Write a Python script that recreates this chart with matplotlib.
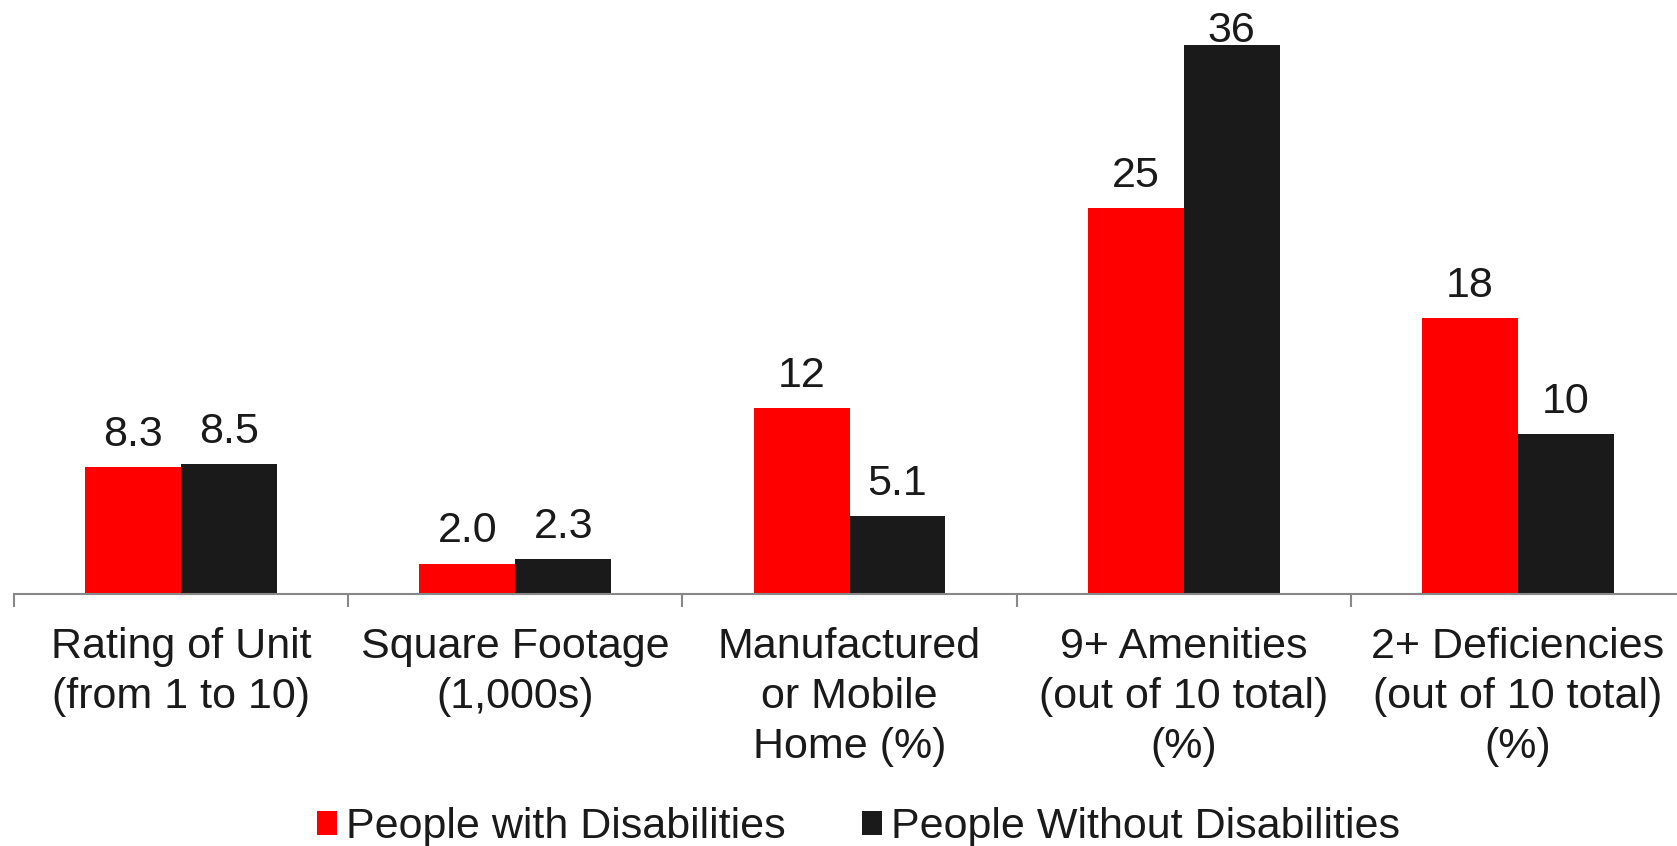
import matplotlib
matplotlib.use("Agg")
import matplotlib.pyplot as plt
import numpy as np
from matplotlib.patches import Patch

categories = ["Rating of Unit\n(from 1 to 10)", "Square Footage\n(1,000s)",
              "Manufactured\nor Mobile\nHome (%)", "9+ Amenities\n(out of 10 total)\n(%)",
              "2+ Deficiencies\n(out of 10 total)\n(%)"]
series_names = ["People with Disabilities", "People Without Disabilities"]
with_dis = [8.3, 2.0, 12.2, 25.3, 18.1]
without_dis = [8.5, 2.3, 5.1, 36.0, 10.5]
with_labels = ["8.3", "2.0", "12", "25", "18"]
without_labels = ["8.5", "2.3", "5.1", "36", "10"]
colors = ["#FF0000", "#1A1A1A"]

plt.rcParams['font.family'] = ['Liberation Sans', 'DejaVu Sans']
TXT = "#1a1a1a"
FS = 31

fig = plt.figure(figsize=(16.77, 8.46), dpi=100)
ax = fig.add_axes([14/1677, 252/846, 1671/1677, 594/846])

x = np.arange(len(categories))
w = 0.287
ymax = 594/15.25
ax.set_xlim(-0.5, len(categories) - 0.5)
ax.set_ylim(0, ymax)

for vals, labs, col, off in [(with_dis, with_labels, colors[0], -w/2),
                             (without_dis, without_labels, colors[1], w/2)]:
    bars = ax.bar(x + off, vals, width=w, color=col)
    for b, v, lab in zip(bars, vals, labs):
        gap = 21
        room = (ymax - v) * 15.25 - 42
        gap_px = min(gap, max(room, 3))
        ax.annotate(lab, (b.get_x() + b.get_width()/2, v), xytext=(0, gap_px*0.72),
                    textcoords="offset points", ha="center", va="baseline",
                    fontsize=FS, color=TXT)

for s in ["top", "right", "left"]:
    ax.spines[s].set_visible(False)
ax.spines["bottom"].set_color("#888888")
ax.spines["bottom"].set_linewidth(1.5)
ax.set_yticks([])
ax.set_xticks(x)
ax.set_xticklabels(categories, fontsize=FS, color=TXT, linespacing=1.32)
ax.tick_params(axis="x", which="major", length=0, pad=24)
ax.set_xticks(np.arange(len(categories)) - 0.5, minor=True)
ax.tick_params(axis="x", which="minor", length=9.4, width=1.5, color="#888888")

handles = [Patch(facecolor=c) for c in colors]
fig.legend(handles, series_names, loc="lower center", bbox_to_anchor=(0.512, -0.027),
           ncol=2, frameon=False, fontsize=FS, handlelength=0.45, handleheight=0.5,
           handletextpad=0.22, columnspacing=1.78, borderpad=0, labelcolor=TXT)

fig.savefig("out.png", dpi=100)
